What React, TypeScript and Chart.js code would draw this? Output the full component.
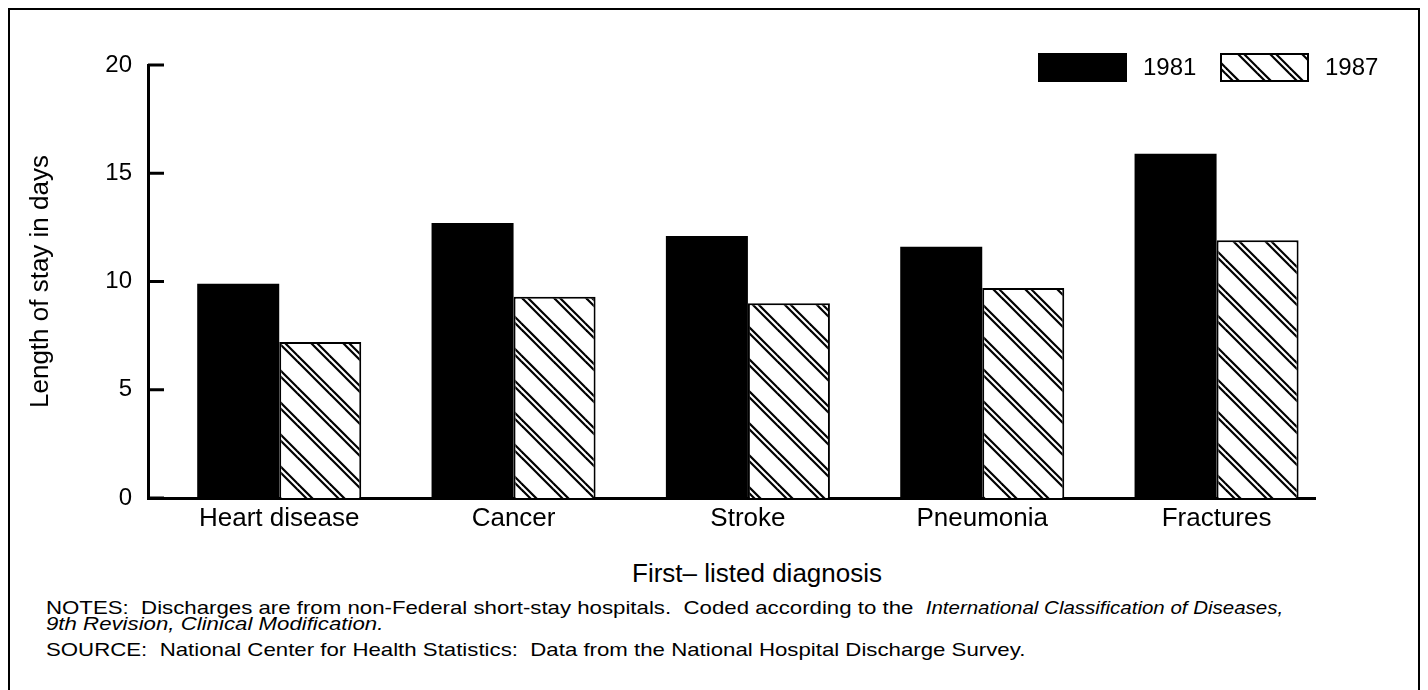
import React, { useEffect, useRef } from "react";
import { Chart, registerables } from "chart.js";

Chart.register(...registerables);

const categories = ["Heart disease", "Cancer", "Stroke", "Pneumonia", "Fractures"];
const series1981 = [9.9, 12.7, 12.1, 11.6, 15.9];
const series1987 = [7.2, 9.3, 9.0, 9.7, 11.9];
const seriesLabels = ["1981", "1987"];
const yMin = 0;
const yMax = 20;
const yStep = 5;

const yTitle = "Length of stay in days";
const xTitle = "First\u2013 listed diagnosis";

const FONT = '"Liberation Sans", Arial, Helvetica, sans-serif';

function makeHatch(): CanvasPattern | string {
  const s = 32;
  const c = document.createElement("canvas");
  c.width = s;
  c.height = s;
  const g = c.getContext("2d");
  if (!g) return "#fff";
  g.fillStyle = "#fff";
  g.fillRect(0, 0, s, s);
  g.strokeStyle = "#000";
  g.lineWidth = 2.2;
  for (const o of [0, 6]) {
    for (let k = -1; k <= 1; k++) {
      g.beginPath();
      g.moveTo(k * s + o - 3, -3);
      g.lineTo(k * s + o + s + 3, s + 3);
      g.stroke();
    }
  }
  const p = g.createPattern(c, "repeat");
  return p || "#fff";
}

const decorPlugin = {
  id: "decor",
  afterDraw(chart: any) {
    const ctx = chart.ctx as CanvasRenderingContext2D;
    const ys = chart.scales.y;
    const left = chart.chartArea.left;
    ctx.save();
    ctx.strokeStyle = "#000";
    ctx.lineWidth = 3;
    ys.ticks.forEach((t: any) => {
      const y = ys.getPixelForValue(t.value);
      ctx.beginPath();
      ctx.moveTo(left, y);
      ctx.lineTo(left + 16, y);
      ctx.stroke();
    });
    // legend
    const boxW = 89;
    const boxH = 29;
    const startX = 1028;
    const boxY = 43;
    const stepX = 182;
    ctx.font = `24px ${FONT}`;
    ctx.textBaseline = "middle";
    ctx.textAlign = "left";
    chart.data.datasets.forEach((ds: any, i: number) => {
      const bx = startX + i * stepX;
      ctx.fillStyle = ds.backgroundColor;
      ctx.fillRect(bx, boxY, boxW, boxH);
      if (ds.borderWidth) {
        ctx.lineWidth = 2;
        ctx.strokeStyle = "#000";
        ctx.strokeRect(bx + 1, boxY + 1, boxW - 2, boxH - 2);
      }
      ctx.fillStyle = "#000";
      ctx.fillText(ds.label, bx + boxW + 16, boxY + boxH / 2 + 1);
    });
    ctx.restore();
  },
};

export default function App() {
  const ref = useRef<HTMLCanvasElement | null>(null);

  useEffect(() => {
    if (!ref.current) return;
    const hatch = makeHatch();
    const chart = new Chart(ref.current, {
      type: "bar",
      data: {
        datasets: [
          {
            label: seriesLabels[0],
            data: series1981.map((v, i) => ({ x: i, y: v })),
            backgroundColor: "#000",
            borderWidth: 0,
            categoryPercentage: 0.7,
            barPercentage: 1,
          },
          {
            label: seriesLabels[1],
            data: series1987.map((v, i) => ({ x: i, y: v })),
            backgroundColor: hatch as any,
            borderColor: "#000",
            borderWidth: 2,
            categoryPercentage: 0.7,
            barPercentage: 1,
          },
        ],
      },
      options: {
        responsive: false,
        animation: false,
        layout: { padding: { left: 0, right: 103, top: 55, bottom: 0 } },
        plugins: {
          legend: { display: false },
          tooltip: { enabled: false },
        },
        scales: {
          x: {
            type: "linear",
            min: -0.56,
            max: 4.42,
            offset: false,
            grid: { display: false, drawTicks: false, tickLength: 0 },
            border: { display: true, color: "#000", width: 3 },
            afterBuildTicks: (s: any) => {
              s.ticks = categories.map((_, i) => ({ value: i }));
            },
            ticks: {
              color: "#000",
              font: { family: FONT, size: 26 },
              padding: 5,
              maxRotation: 0,
              autoSkip: false,
              callback: (_v: any, i: number) => categories[i],
            },
            afterFit: (s: any) => {
              s.height = 57;
            },
          },
          y: {
            min: yMin,
            max: yMax,
            ticks: {
              stepSize: yStep,
              color: "#000",
              font: { family: FONT, size: 24 },
              padding: 16,
            },
            grid: { display: false, drawTicks: false, tickLength: 0 },
            border: { display: true, color: "#000", width: 3 },
            title: {
              display: true,
              text: yTitle,
              color: "#000",
              font: { family: FONT, size: 26 },
              padding: { top: 15, bottom: 0 },
            },
            afterFit: (s: any) => {
              s.width = 138;
            },
          },
        },
      },
      plugins: [decorPlugin],
    });
    return () => chart.destroy();
  }, []);

  const noteStyle: React.CSSProperties = {
    position: "absolute",
    left: 36,
    fontSize: 19,
    lineHeight: "20px",
    whiteSpace: "nowrap",
    transform: "scaleX(1.17)",
    transformOrigin: "left center",
  };

  return (
    <div
      style={{
        position: "relative",
        width: 1412,
        height: 682,
        boxSizing: "border-box",
        border: "2px solid #000",
        borderBottom: "none",
        fontFamily: FONT,
        color: "#000",
        background: "#fff",
        overflow: "hidden",
      }}
    >
      <canvas
        ref={ref}
        width={1408}
        height={545}
        style={{ position: "absolute", left: 0, top: 0, display: "block" }}
      />
      <div
        style={{
          position: "absolute",
          left: 622,
          top: 548,
          fontSize: 26,
          lineHeight: "30px",
          whiteSpace: "nowrap",
        }}
      >
        {xTitle}
      </div>
      <div style={{ ...noteStyle, top: 588 }}>
        NOTES:&nbsp; Discharges are from non-Federal short-stay hospitals.&nbsp; Coded according to the&nbsp;{" "}
        <span style={{ fontStyle: "italic", fontSize: 17.5 }}>International Classification of Diseases,</span>
      </div>
      <div style={{ ...noteStyle, top: 604 }}>
        <span style={{ fontStyle: "italic" }}>9th Revision, Clinical Modification.</span>
      </div>
      <div style={{ ...noteStyle, top: 630 }}>
        SOURCE:&nbsp; National Center for Health Statistics:&nbsp; Data from the National Hospital Discharge Survey.
      </div>
    </div>
  );
}
